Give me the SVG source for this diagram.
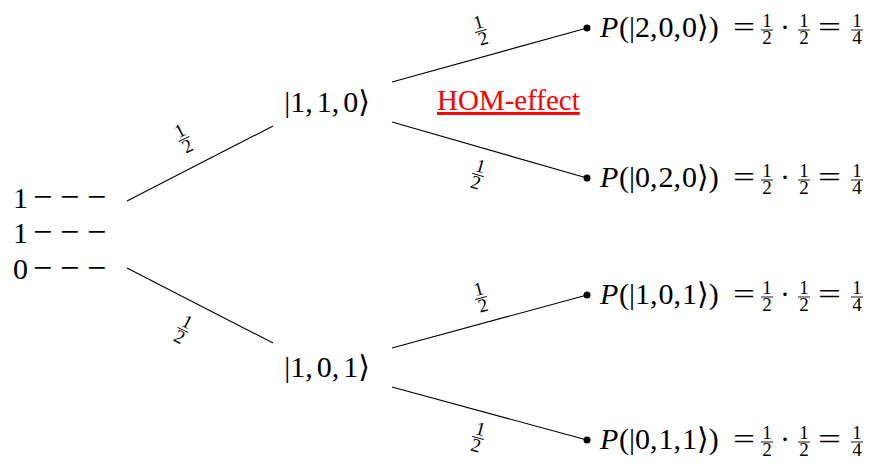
<svg xmlns="http://www.w3.org/2000/svg" width="869" height="463" viewBox="0 0 869 463">
<style>
  .t{font-family:"Liberation Serif","DejaVu Serif",serif;fill:#000}
  .big{font-size:30px}
  .node{font-size:30px;text-anchor:middle;word-spacing:-3.5px}
  .row{word-spacing:-6.5px}
  .fr{font-size:19px;text-anchor:middle}
  .it{font-style:italic}
  .edge{stroke:#000;stroke-width:1.1;fill:none}
  .bar{stroke:#000;stroke-width:0.9}
  .hom{font-family:"Liberation Serif",serif;font-size:29px;fill:#ff0000}
</style>
<defs>
  <g id="half">
    <text class="t fr" x="0" y="-3">1</text>
    <line class="bar" x1="-6" y1="0" x2="6" y2="0"/>
    <text class="t fr" x="0" y="14">2</text>
  </g>
  <g id="quarter">
    <text class="t fr" x="0" y="-3">1</text>
    <line class="bar" x1="-6" y1="0" x2="6" y2="0"/>
    <text class="t fr" x="0" y="14">4</text>
  </g>
</defs>

<g id="connectors">
  <line class="edge" x1="127" y1="201" x2="273" y2="126"/>
  <line class="edge" x1="127" y1="268" x2="273" y2="343"/>
  <line class="edge" x1="392" y1="82" x2="587" y2="28"/>
  <line class="edge" x1="392" y1="122" x2="587" y2="178"/>
  <line class="edge" x1="392" y1="348" x2="587" y2="295"/>
  <line class="edge" x1="392" y1="387" x2="587" y2="440"/>
  <circle cx="587" cy="28" r="3.5"/>
  <circle cx="587" cy="178" r="3.5"/>
  <circle cx="587" cy="295" r="3.5"/>
  <circle cx="587" cy="440" r="3.5"/>
  <use href="#half" transform="translate(184,139) rotate(-27)"/>
  <use href="#half" transform="translate(183,330) rotate(27)"/>
  <use href="#half" transform="translate(481,31) rotate(-16)"/>
  <use href="#half" transform="translate(478,175) rotate(16)"/>
  <use href="#half" transform="translate(481,298) rotate(-15)"/>
  <use href="#half" transform="translate(478,438) rotate(15)"/>
</g>

<g id="start">
  <text class="t big" y="208"><tspan x="13">1</tspan><tspan x="33" font-size="34">−</tspan><tspan x="60" font-size="34">−</tspan><tspan x="87" font-size="34">−</tspan></text>
  <text class="t big" y="243"><tspan x="13">1</tspan><tspan x="33" font-size="34">−</tspan><tspan x="60" font-size="34">−</tspan><tspan x="87" font-size="34">−</tspan></text>
  <text class="t big" y="279"><tspan x="13">0</tspan><tspan x="33" font-size="34">−</tspan><tspan x="60" font-size="34">−</tspan><tspan x="87" font-size="34">−</tspan></text>
</g>

<g id="n110">
  <text class="t node" x="327" y="112">|1, 1, 0⟩</text>
</g>
<g id="n101">
  <text class="t node" x="327" y="377">|1, 0, 1⟩</text>
</g>

<g id="hom">
  <text class="hom" x="437" y="110" text-decoration="underline">HOM-effect</text>
</g>

<g id="r200" transform="translate(0,37)">
  <text class="t big row"><tspan x="600" class="it">P</tspan><tspan x="619">(|2, 0, 0⟩)</tspan></text>
  <text class="t big" x="733" textLength="22" lengthAdjust="spacingAndGlyphs">=</text>
  <use href="#half" transform="translate(767,-7)"/>
  <text class="t big" x="780">·</text>
  <use href="#half" transform="translate(804,-7)"/>
  <text class="t big" x="818" textLength="23" lengthAdjust="spacingAndGlyphs">=</text>
  <use href="#quarter" transform="translate(857,-7)"/>
</g>
<g id="r020" transform="translate(0,187)">
  <text class="t big row"><tspan x="600" class="it">P</tspan><tspan x="619">(|0, 2, 0⟩)</tspan></text>
  <text class="t big" x="733" textLength="22" lengthAdjust="spacingAndGlyphs">=</text>
  <use href="#half" transform="translate(767,-7)"/>
  <text class="t big" x="780">·</text>
  <use href="#half" transform="translate(804,-7)"/>
  <text class="t big" x="818" textLength="23" lengthAdjust="spacingAndGlyphs">=</text>
  <use href="#quarter" transform="translate(857,-7)"/>
</g>
<g id="r101" transform="translate(0,304)">
  <text class="t big row"><tspan x="600" class="it">P</tspan><tspan x="619">(|1, 0, 1⟩)</tspan></text>
  <text class="t big" x="733" textLength="22" lengthAdjust="spacingAndGlyphs">=</text>
  <use href="#half" transform="translate(767,-7)"/>
  <text class="t big" x="780">·</text>
  <use href="#half" transform="translate(804,-7)"/>
  <text class="t big" x="818" textLength="23" lengthAdjust="spacingAndGlyphs">=</text>
  <use href="#quarter" transform="translate(857,-7)"/>
</g>
<g id="r011" transform="translate(0,449)">
  <text class="t big row"><tspan x="600" class="it">P</tspan><tspan x="619">(|0, 1, 1⟩)</tspan></text>
  <text class="t big" x="733" textLength="22" lengthAdjust="spacingAndGlyphs">=</text>
  <use href="#half" transform="translate(767,-7)"/>
  <text class="t big" x="780">·</text>
  <use href="#half" transform="translate(804,-7)"/>
  <text class="t big" x="818" textLength="23" lengthAdjust="spacingAndGlyphs">=</text>
  <use href="#quarter" transform="translate(857,-7)"/>
</g>
</svg>
